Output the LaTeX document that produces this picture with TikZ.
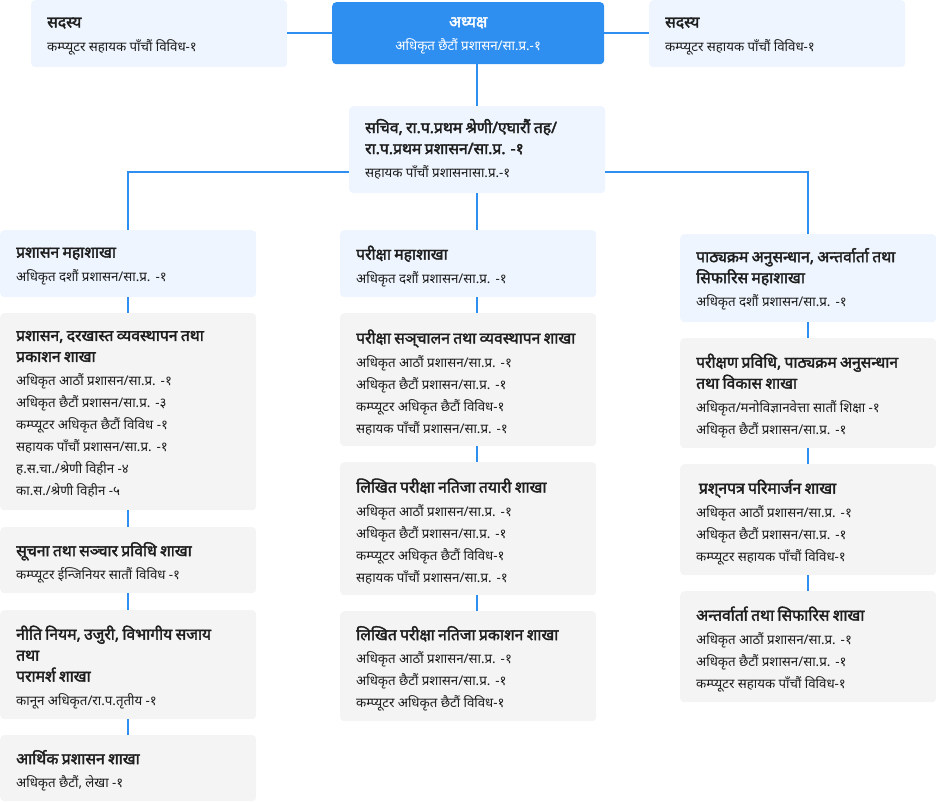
\documentclass[tikz,border=0pt]{standalone}
\usepackage{fontspec}
\setmainfont{Noto Sans}[Script=Devanagari]
\newfontfamily\boldnoto{Noto Sans}[Script=Devanagari, FakeBold=2.2]
\usetikzlibrary{calc}
\definecolor{lb}{HTML}{EEF5FE}
\definecolor{gr}{HTML}{F4F4F4}
\definecolor{bl}{HTML}{2F8FF0}
\definecolor{tx}{HTML}{1E1E1E}
\newcommand\TF{\boldnoto\fontsize{15.7}{21}\selectfont}
\newcommand\SF{\fontsize{13.3}{22}\selectfont}
\newcommand\bx[3][-5pt]{\leftskip=6pt{\TF #2\par}\vspace{1.5pt}{\SF #3\par}\vspace{#1}}
\newcommand\cbx[2]{{\TF #1\par}\vspace{1.5pt}{\SF #2\par}\vspace{-5pt}}
\begin{document}
\begin{tikzpicture}[x=1pt,y=-1pt,
  card/.style={anchor=north west, rounded corners=4pt, inner xsep=10pt, inner ysep=0pt,
    text width=236pt, align=left, text=tx},
  lbc/.style={card, fill=lb},
  grc/.style={card, fill=gr},
  chairc/.style={anchor=north west, rounded corners=4pt, inner xsep=16pt, inner ysep=0pt,
    text width=240pt, align=center, text=white, fill=bl},
  link/.style={draw=bl, line width=2pt}]
\useasboundingbox (0,0) rectangle (936,802);
% top row
\node[lbc, minimum height=67pt] (m1) at (31,0) {\bx{सदस्य}{कम्प्यूटर सहायक पाँचौं विविध-१}};
\node[chairc, minimum height=62pt] (chair) at (332,2) {\cbx{अध्यक्ष}{अधिकृत छैटौं प्रशासन/सा.प्र.-१}};
\node[lbc, minimum height=67pt] (m2) at (649,0) {\bx{सदस्य}{कम्प्यूटर सहायक पाँचौं विविध-१}};
% secretary
\node[lbc, minimum height=87pt] (sec) at (349,106) {\bx[1pt]{सचिव, रा.प.प्रथम श्रेणी/एघारौं तह/\\रा.प.प्रथम प्रशासन/सा.प्र. -१}{सहायक पाँचौं प्रशासनासा.प्र.-१}};
% left column
\node[lbc, minimum height=67pt] (L1) at (0,230) {\bx{प्रशासन महाशाखा}{अधिकृत दशौं प्रशासन/सा.प्र. -१}};
\node[grc, minimum height=197pt] (L2) at (0,313) {\bx{प्रशासन, दरखास्त व्यवस्थापन तथा\\प्रकाशन शाखा}{अधिकृत आठौं प्रशासन/सा.प्र. -१\\अधिकृत छैटौं प्रशासन/सा.प्र. -३\\कम्प्यूटर अधिकृत छैटौं विविध -१\\सहायक पाँचौं प्रशासन/सा.प्र. -१\\ह.स.चा./श्रेणी विहीन -४\\का.स./श्रेणी विहीन -५}};
\node[grc, minimum height=66pt] (L3) at (0,527) {\bx{सूचना तथा सञ्चार प्रविधि शाखा}{कम्प्यूटर ईन्जिनियर सातौं विविध -१}};
\node[grc, minimum height=109pt] (L4) at (0,610) {\bx{नीति नियम, उजुरी, विभागीय सजाय\\तथा\\परामर्श शाखा}{कानून अधिकृत/रा.प.तृतीय -१}};
\node[grc, minimum height=66pt] (L5) at (0,735) {\bx{आर्थिक प्रशासन शाखा}{अधिकृत छैटौं, लेखा -१}};
% middle column
\node[lbc, minimum height=67pt] (M1) at (340,230) {\bx{परीक्षा महाशाखा}{अधिकृत दशौं प्रशासन/सा.प्र. -१}};
\node[grc, minimum height=133pt] (M2) at (340,313) {\bx{परीक्षा सञ्‌चालन तथा व्यवस्थापन शाखा}{अधिकृत आठौं प्रशासन/सा.प्र. -१\\अधिकृत छैटौं प्रशासन/सा.प्र. -१\\कम्प्यूटर अधिकृत छैटौं विविध-१\\सहायक पाँचौं प्रशासन/सा.प्र. -१}};
\node[grc, minimum height=133pt] (M3) at (340,462) {\bx{लिखित परीक्षा नतिजा तयारी शाखा}{अधिकृत आठौं प्रशासन/सा.प्र. -१\\अधिकृत छैटौं प्रशासन/सा.प्र. -१\\कम्प्यूटर अधिकृत छैटौं विविध-१\\सहायक पाँचौं प्रशासन/सा.प्र. -१}};
\node[grc, minimum height=110pt] (M4) at (340,611) {\bx{लिखित परीक्षा नतिजा प्रकाशन शाखा}{अधिकृत आठौं प्रशासन/सा.प्र. -१\\अधिकृत छैटौं प्रशासन/सा.प्र. -१\\कम्प्यूटर अधिकृत छैटौं विविध-१}};
% right column
\node[lbc, minimum height=88pt] (R1) at (680,234) {\bx[-2pt]{पाठ्यक्रम अनुसन्धान, अन्तर्वार्ता तथा\\सिफारिस महाशाखा}{अधिकृत दशौं प्रशासन/सा.प्र. -१}};
\node[grc, minimum height=110pt] (R2) at (680,338) {\bx{परीक्षण प्रविधि, पाठ्यक्रम अनुसन्धान\\तथा विकास शाखा}{अधिकृत/मनोविज्ञानवेत्ता सातौं शिक्षा -१\\अधिकृत छैटौं प्रशासन/सा.प्र. -१}};
\node[grc, minimum height=111pt] (R3) at (680,464) {\bx{\,प्रश्‌नपत्र परिमार्जन शाखा}{अधिकृत आठौं प्रशासन/सा.प्र. -१\\अधिकृत छैटौं प्रशासन/सा.प्र. -१\\कम्प्यूटर सहायक पाँचौं विविध-१}};
\node[grc, minimum height=111pt] (R4) at (680,591) {\bx{अन्तर्वार्ता तथा सिफारिस शाखा}{अधिकृत आठौं प्रशासन/सा.प्र. -१\\अधिकृत छैटौं प्रशासन/सा.प्र. -१\\कम्प्यूटर सहायक पाँचौं विविध-१}};
% connectors
\coordinate (brL) at (129,172);
\coordinate (brR) at (809,172);
\coordinate (mx) at (477,0);
\draw[link] (m1.east |- chair.west) -- (chair.west);
\draw[link] (chair.east) -- (m2.west |- chair.east);
\draw[link] (chair.south -| sec.north) -- (sec.north);
\draw[link] (sec.west |- brL) -| (L1.north);
\draw[link] (sec.east |- brR) -| (R1.north);
\draw[link] (sec.south) -- (sec.south |- M1.north);
\draw[link] (L1.south) -- (L2.north);
\draw[link] (L2.south) -- (L3.north);
\draw[link] (L3.south) -- (L4.north);
\draw[link] (L4.south) -- (L5.north);
\draw[link] (M1.south -| mx) -- (M2.north -| mx);
\draw[link] (M2.south -| mx) -- (M3.north -| mx);
\draw[link] (M3.south -| mx) -- (M4.north -| mx);
\draw[link] (R1.south) -- (R2.north);
\draw[link] (R2.south) -- (R3.north);
\draw[link] (R3.south) -- (R4.north);
\end{tikzpicture}
\end{document}
